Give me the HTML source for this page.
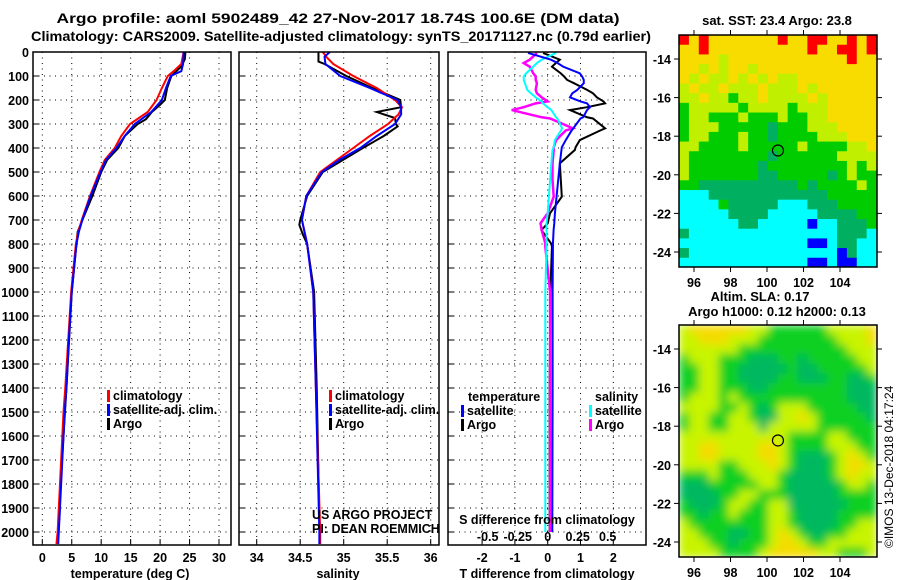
<!DOCTYPE html>
<html><head><meta charset="utf-8"><style>
body{margin:0;background:#fff;}
svg{display:block;font-family:"Liberation Sans",sans-serif;}
.t{font-weight:bold;font-size:13px;fill:#000;}
.k{font-weight:bold;font-size:12.5px;fill:#000;}
</style></head><body>
<svg id="s" width="900" height="580" viewBox="0 0 900 580">
<text class="t" x="338" y="23" text-anchor="middle" font-size="14" style="font-size:14px" textLength="563" lengthAdjust="spacingAndGlyphs">Argo profile: aoml 5902489_42 27-Nov-2017 18.74S 100.6E (DM data)</text>
<text class="t" x="341" y="41" text-anchor="middle" style="font-size:14px" textLength="620" lengthAdjust="spacingAndGlyphs">Climatology: CARS2009. Satellite-adjusted climatology: synTS_20171127.nc (0.79d earlier)</text>
<text class="t" x="777" y="25" text-anchor="middle">sat. SST: 23.4 Argo: 23.8</text>
<text class="t" x="760" y="301" text-anchor="middle">Altim. SLA: 0.17</text>
<text class="t" x="777" y="316" text-anchor="middle">Argo h1000: 0.12 h2000: 0.13</text>
<text x="893" y="548" font-size="12" transform="rotate(-90 893 548)">©IMOS 13-Dec-2018 04:17:24</text>
<g id="g"></g>
</svg>
<script>
// ---- profile data ----
const depthT=[0,50,80,100,150,200,250,300,350,400,450,500,600,700,750,800,1000,1200,1400,1500,1600,1800,2000,2050];
const tempClim=[24.0,23.6,22.3,21.3,20.3,19.4,17.9,14.9,13.4,12.3,10.6,9.7,8.1,6.7,6.1,5.7,4.9,4.4,3.9,3.6,3.4,3.0,2.6,2.4];
const tempSat=[24.0,23.9,23.6,21.8,21.0,20.3,18.5,15.7,14.0,12.6,10.8,9.9,8.2,6.8,6.2,5.8,5.0,4.5,4.1,3.8,3.6,3.2,2.8,2.7];
const depthTA=[0,30,60,100,150,200,220,250,280,300,350,400,450,500,600,700,750,800,1000,1400,1800,1950];
const tempArgo=[24.3,24.2,23.6,21.9,21.2,20.8,20.0,18.6,17.6,16.2,14.0,12.9,11.0,10.0,8.5,6.8,6.0,5.8,5.0,4.1,3.1,2.9];
const depthS=[0,20,50,100,150,200,230,260,300,350,400,450,500,600,700,800,1000,1400,2000,2050];
const salClim=[34.76,34.80,34.88,35.11,35.38,35.59,35.67,35.63,35.51,35.30,35.11,34.92,34.73,34.57,34.52,34.58,34.65,34.68,34.73,34.73];
const salSat=[34.84,34.78,34.79,34.96,35.30,35.62,35.66,35.66,35.59,35.38,35.19,34.95,34.75,34.57,34.52,34.58,34.65,34.68,34.72,34.72];
const depthSA=[0,40,50,100,150,200,230,250,275,300,310,350,400,500,600,700,720,760,800,1000,1400,1950];
const salArgo=[34.71,34.71,34.78,35.03,35.33,35.65,35.66,35.38,35.59,35.60,35.62,35.46,35.22,34.76,34.58,34.50,34.49,34.53,34.58,34.66,34.69,34.72];
const depthD=[4,32,46,61,89,102,116,130,158,172,189,206,214,230,242,272,277,318,327,367,397,408,464,533,603,672,714,742,797,811,1000,1400,2000];
const dTsat=[-0.6,0.1,0.3,0.47,0.98,1.05,1.1,1.1,0.9,0.75,0.68,1.0,1.2,1.29,1.2,1.08,1.0,0.78,0.73,0.55,0.43,0.42,0.37,0.32,0.27,0.22,0.2,0.18,0.16,0.16,0.15,0.15,0.14];
const dTargo=[-0.14,0.37,0.25,0.13,0.4,0.5,0.59,0.8,1.2,1.38,1.5,1.7,1.75,1.2,0.68,1.2,1.38,1.75,1.6,0.98,0.85,0.83,0.37,0.4,0.43,0.07,0.0,-0.19,0.1,0.13,0.08,0.06,0.06];
const dSargo=[-0.09,-0.15,-0.2,-0.15,-0.12,-0.1,-0.1,-0.09,-0.1,-0.09,-0.05,0.0,-0.1,-0.2,-0.3,-0.05,0.02,0.21,0.15,0.07,0.05,0.05,0.04,0.04,0.05,0.0,-0.06,-0.05,-0.02,-0.02,0.02,0.02,0.02];
const dSsat=[0.07,-0.05,-0.09,-0.12,-0.18,-0.2,-0.2,-0.19,-0.17,-0.14,-0.1,-0.05,-0.04,0.0,0.03,0.07,0.08,0.12,0.11,0.06,0.05,0.04,0.03,0.02,0.01,0.0,-0.01,-0.01,-0.01,-0.01,-0.02,-0.02,-0.02];
const depthTicks=[0,100,200,300,400,500,600,700,800,900,1000,1100,1200,1300,1400,1500,1600,1700,1800,1900,2000];
const tempTicks=[0,5,10,15,20,25,30];
const salTicks=[34,34.5,35,35.5,36];
const salTickLabels=["34","34.5","35","35.5","36"];
const dTTicks=[-2,-1,0,1,2];
const dSTicks=[-0.5,-0.25,0,0.25,0.5];
const dSTickLabels=["-0.5","-0.25","0","0.25","0.5"];
const lonTicks=[96,98,100,102,104];
const latTicks=[-14,-16,-18,-20,-22,-24];
const floatLon=100.6, floatLat=-18.74;
const sstGrid=["RYRYYYYYYYRYYRRYYRYR","YYRYYYYYYYYYYRYYRRYR","YYYYLYYYYYYYYYYYYRYY","YYLYLYYLYYYYYYYYYYYY","YLYLLYLYLYLLYYYYYYYY","LYLLYLLLYLLLYLYYYYYY","LLYLLGLLYLLLLYLYYYYY","GLLLLLGLLLLGLLLYYYYY","GLLGGGLGGGLGGLLYYYYY","GLLLGGGGGDGGGLLLYYYY","GLLGGGLGGDGGGGLLLYYY","LLGGGGLGGGGGLGGGGLLY","LGGGGGGGGDGGGGGGLLLL","LGGGGGGGDGGGGGGGGLGL","LGGGGGGGDDGGGGGDGLGG","GGDDDDDDDDDDGDGGGGLG","CCCDDDDDDDDDDDDGGGGG","CCCCGDDDDDCCCDDDGGGG","CCCCCDDDDCCCCCDDDDGG","CCCCCCDDCCCCCBCCDDDG","DCCCCCCCCCCCCCCCDDDC","CCCCCCCCCCCCCBBCDDCC","DCCCCCCCCCCCCCCCBDCC","CCCCCCCCCCCCCBBCBBCC"];
const slaGrid=["LYYYYYYLLGGGGGGLLLLY","LLYYYLLLGGGGGGGGLLLY","LLLLLLGGGGGGGGGGGLLL","GLLLGGGDDDGGDGGGGGLL","GGLLGGDDDDDGDDGGGGGL","GGLLGGDDDDGGDDDGGDDG","GGLLGGGDDGGGGGGGGDDD","GLLLGLGGGGGGGGGGGDDD","LLLLGGLGDGLLLGGGGGDD","GLLGGLLGDDLLYLGGGGGD","GLLGGLLLDLLLLLGGGGGG","LLLLLLLLLLLGGGGLLGGG","LLYYLLLLYYLGGGGLLLGG","LLYYLLLLYYLGDDDGLYLG","LLLLGGLLLYLGDDDGLYYL","GGGLGGGLLLGDDDDGLYLL","DDDGGGGGLLGDDDDDGLLG","DDDDGGLLGGGDDDDDGGGG","GDDDGLLGGLLDDDDDDGGG","GGDGGLGGGLLGDDDDGGGG","LGGGGGGGGLLGDDDDGGLL","LLGGGDDGGLYLGDDGGLLL","LLLGGDGGGLYYLGGLLLLL","LLLLGGGGLYYYYYLLGGGL"];
const sstColors={R:"#ff0000",Y:"#f8dc00",L:"#c0f000",G:"#00cc00",D:"#00b060",C:"#00ffff",B:"#0000ff"};
const slaColors={Y:"#f4dc00",L:"#c8f400",G:"#10d020",D:"#00b860"};

const NS="http://www.w3.org/2000/svg";
const g=document.getElementById('g');
function mk(tag,at,parent){const e=document.createElementNS(NS,tag);for(const k in at)e.setAttribute(k,at[k]);(parent||g).appendChild(e);return e;}
function lin(d0,d1,r0,r1){return v=>r0+(v-d0)/(d1-d0)*(r1-r0);}
const Y0=52,Y1=545;
const yD=lin(0,100,52,76);
function txt(x,y,s,cls,anchor,name){const e=mk('text',{x:x,y:y,class:cls||'k','text-anchor':anchor||'middle'});e.textContent=s;


return e;}
function panel(x0,x1,name){const r=mk('rect',{x:x0,y:Y0,width:x1-x0,height:Y1-Y0,fill:'none',stroke:'#000','stroke-width':1.5});

}
function grid(x0,x1,xs,fx){
 depthTicks.forEach(d=>{const l=mk('line',{x1:x0,x2:x1,y1:yD(d),y2:yD(d),stroke:'#000','stroke-dasharray':'1,4.5'});
 
 
 const t=mk('line',{x1:x0,x2:x0+6,y1:yD(d),y2:yD(d),stroke:'#000'});
 
 });
 xs.forEach(v=>{const l=mk('line',{x1:fx(v),x2:fx(v),y1:Y0,y2:Y1,stroke:'#000','stroke-dasharray':'1,4.5'});
 
 
 const t=mk('line',{x1:fx(v),x2:fx(v),y1:Y1,y2:Y1-6,stroke:'#000'});
 
 });
}
function line(xs,ds,fx,col,name,w){const p=mk('polyline',{points:xs.map((v,i)=>fx(v)+','+yD(ds[i])).join(' '),fill:'none',stroke:col,'stroke-width':w||2});

}
function leg(x,y,col,s,name){const r=mk('rect',{x:x,y:y-10,width:3,height:12,fill:col});


txt(x+6,y,s,'k','start',name);}

// panel 1 temperature
const xT=lin(0,30,42.3,219);
grid(33,231,tempTicks,xT);
line(tempArgo,depthTA,xT,'#000','temp-argo-line');
line(tempClim,depthT,xT,'#f00','temp-climatology-line');
line(tempSat,depthT,xT,'#00f','temp-satellite-line');
panel(33,231,'temperature-panel');
depthTicks.forEach(d=>txt(29,yD(d)+5,String(d),'k','end','depth-tick-label'));
tempTicks.forEach(v=>txt(xT(v),562,String(v),'k','middle','temp-tick-label'));
txt(130,578,'temperature (deg C)','k','middle','temp-axis-title');
leg(107,400,'#f00','climatology','legend-climatology');
leg(107,414,'#00f','satellite-adj. clim.','legend-satellite-adj');
leg(107,428,'#000','Argo','legend-argo');

// panel 2 salinity
const xS=lin(34,36,256.7,430.7);
grid(239,439,salTicks,xS);
line(salArgo,depthSA,xS,'#000','sal-argo-line');
line(salClim,depthS,xS,'#f00','sal-climatology-line');
line(salSat,depthS,xS,'#00f','sal-satellite-line');
panel(239,439,'salinity-panel');
salTicks.forEach((v,i)=>txt(xS(v),562,salTickLabels[i],'k','middle','sal-tick-label'));
txt(338,578,'salinity','k','middle','sal-axis-title');
leg(329,400,'#f00','climatology','legend-climatology-2');
leg(329,414,'#00f','satellite-adj. clim.','legend-satellite-adj-2');
leg(329,428,'#000','Argo','legend-argo-2');
const c1=txt(312,519,'US ARGO PROJECT','','start','credit-us-argo');c1.setAttribute('font-size','12');
const c2=txt(312,533,'PI: DEAN ROEMMICH','','start','credit-pi');c2.setAttribute('font-size','12');

// panel 3 differences
const xDT=lin(0,2,547.7,613.3);
const xDS=lin(0,0.5,547.7,607.7);
grid(448,646,dTTicks,xDT);
line(dTargo,depthD,xDT,'#000','dT-argo-line');
line(dSargo,depthD,xDS,'#ff00ff','dS-argo-line',2.5);
line(dSsat,depthD,xDS,'#00ffff','dS-satellite-line');
line(dTsat,depthD,xDT,'#00f','dT-satellite-line');
panel(448,646,'difference-panel');
dTTicks.forEach(v=>txt(xDT(v),562,String(v),'k','middle','dT-tick-label'));
dSTicks.forEach((v,i)=>txt(xDS(v),541,dSTickLabels[i],'k','middle','dS-tick-label'));
txt(547,524,'S difference from climatology','k','middle','dS-axis-title');
txt(547,578,'T difference from climatology','k','middle','dT-axis-title');
txt(468,401,'temperature','k','start','legend-temperature-heading');
leg(461,415,'#00f','satellite','legend-t-satellite');
leg(461,429,'#000','Argo','legend-t-argo');
txt(595,401,'salinity','k','start','legend-salinity-heading');
leg(589,415,'#00ffff','satellite','legend-s-satellite');
leg(589,429,'#ff00ff','Argo','legend-s-argo');

// maps
const MX0=679,MX1=877;
const xLon=lin(96,104,694,840);
function map(yTop,yBot,gridRows,colors,name,blur){
 const yLat=lin(-14,-24,yTop+24,yTop+217);
 const lon0=95.18,lon1=106.0,lat0=-12.76,lat1=-24.8;
 const cid='clip-'+name;
 const cp=mk('clipPath',{id:cid});mk('rect',{x:MX0,y:yTop,width:MX1-MX0,height:yBot-yTop},cp);
 const grp=mk('g',{'clip-path':'url(#'+cid+')'});
 
 
 const inner=mk('g',blur?{filter:'url(#blr)'}:{},grp);
 const nr=gridRows.length,nc=gridRows[0].length;
 const dlon=(lon1-lon0)/nc,dlat=(lat0-lat1)/nr;
 gridRows.forEach((row,r)=>{for(let c=0;c<nc;c++){
  const xa=xLon(lon0+c*dlon),xb=xLon(lon0+(c+1)*dlon),ya=yLat(lat0-r*dlat),yb=yLat(lat0-(r+1)*dlat);
  const e=mk('rect',{x:xa,y:ya,width:xb-xa+0.5,height:yb-ya+0.5,fill:colors[row[c]]},inner);
  
  
 }});
 const f=mk('rect',{x:MX0,y:yTop,width:MX1-MX0,height:yBot-yTop,fill:'none',stroke:'#000','stroke-width':1.5});
 
 
 lonTicks.forEach(v=>{const t=mk('line',{x1:xLon(v),x2:xLon(v),y1:yBot,y2:yBot+5,stroke:'#000'});
  
  const t2=mk('line',{x1:xLon(v),x2:xLon(v),y1:yTop,y2:yTop-5,stroke:'#000'});
  
  txt(xLon(v),yBot+20,String(v),'k','middle','lon-tick-label');});
 latTicks.forEach(v=>{const t=mk('line',{x1:MX0-5,x2:MX0,y1:yLat(v),y2:yLat(v),stroke:'#000'});
  
  const t2=mk('line',{x1:MX1,x2:MX1+5,y1:yLat(v),y2:yLat(v),stroke:'#000'});
  
  txt(MX0-8,yLat(v)+5,String(v),'k','end','lat-tick-label');});
 const c=mk('circle',{cx:xLon(floatLon),cy:yLat(floatLat),r:5.5,fill:'none',stroke:'#000','stroke-width':1.2});
 
 
}
const fl=mk('filter',{id:'blr',x:'-5%',y:'-5%',width:'110%',height:'110%'});
mk('feGaussianBlur',{stdDeviation:4.5},fl);
map(35,267,sstGrid,sstColors,'sst-map',false);
map(325,557,slaGrid,slaColors,'sla-map',true);
</script>
</body></html>
